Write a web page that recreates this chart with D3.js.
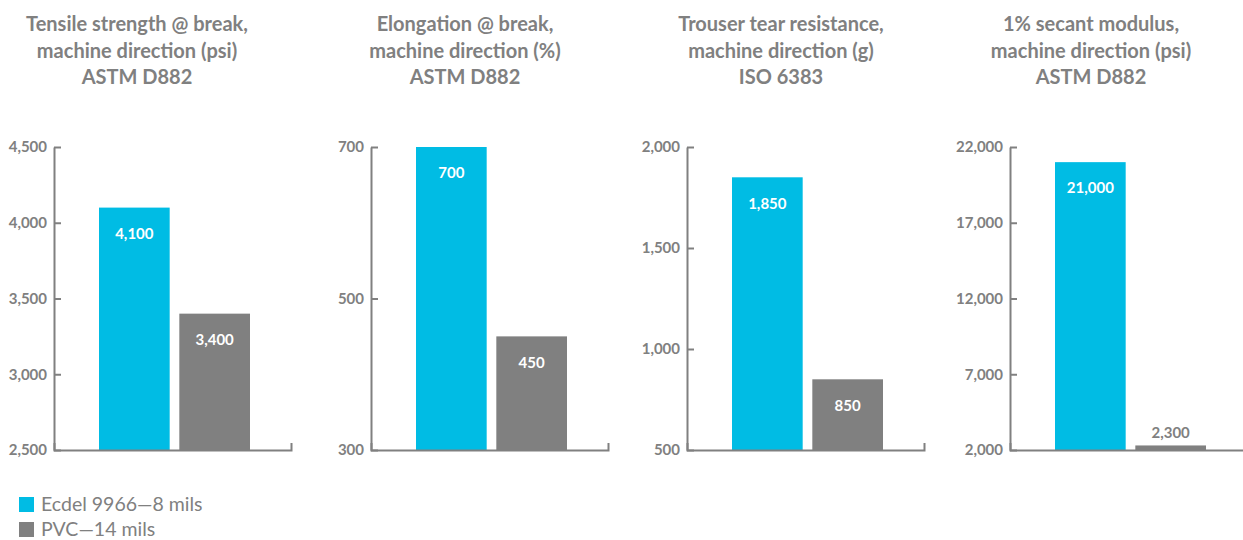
<!DOCTYPE html>
<html>
<head>
<meta charset="utf-8">
<style>
  body { margin: 0; background: #fff; }
  text { font-family: Lato, "Open Sans", sans-serif; }
</style>
</head>
<body>
<script src="https://d3js.org/d3.v7.min.js"></script>
<svg id="chart" width="1243" height="540"></svg>
<script>
// data
const titles = [
  ["Tensile strength @ break,", "machine direction (psi)", "ASTM D882"],
  ["Elongation @ break,", "machine direction (%)", "ASTM D882"],
  ["Trouser tear resistance,", "machine direction (g)", "ISO 6383"],
  ["1% secant modulus,", "machine direction (psi)", "ASTM D882"]
];
const series = ["Ecdel 9966\u20148 mils", "PVC\u201414 mils"];
const ecdelValues = [4100, 700, 1850, 21000];
const pvcValues = [3400, 450, 850, 2300];
const axisMin = [2500, 300, 500, 2000];
const axisMax = [4500, 700, 2000, 22000];
const tickValues = [
  [2500, 3000, 3500, 4000, 4500],
  [300, 500, 700],
  [500, 1000, 1500, 2000],
  [2000, 7000, 12000, 17000, 22000]
];

// layout
const panelX = [54, 371, 687, 1010];
const titleX = [137, 465, 781, 1091];
const plotTop = 147, plotBottom = 450, axisLen = 237;
const colors = ["#00bce4", "#808080"];
const textGrey = "#808080";

const svg = d3.select("#chart");
const fmt = d3.format(",");

const x = d3.scaleBand().domain(series).range([45, 196]).paddingInner(0.12);

titles.forEach(function(lines, i) {
  const g = svg.append("g").attr("transform", `translate(${panelX[i]},0)`);
  const y = d3.scaleLinear().domain([axisMin[i], axisMax[i]]).range([plotBottom, plotTop]);

  // title
  svg.append("text")
    .attr("x", titleX[i])
    .attr("text-anchor", "middle")
    .style("font-size", "20px")
    .style("font-weight", 700)
    .style("fill", textGrey)
    .selectAll("tspan")
    .data(lines)
    .enter()
    .append("tspan")
    .attr("x", titleX[i])
    .attr("y", (d, j) => 31 + j * 26.5)
    .text(d => d);

  // bars
  const vals = [ecdelValues[i], pvcValues[i]];
  g.selectAll("rect.bar")
    .data(vals)
    .enter()
    .append("rect")
    .attr("class", "bar")
    .attr("x", (d, j) => x(series[j]))
    .attr("width", x.bandwidth())
    .attr("y", d => y(d))
    .attr("height", d => plotBottom - y(d))
    .style("fill", (d, j) => colors[j]);

  g.selectAll("text.val")
    .data(vals)
    .enter()
    .append("text")
    .attr("class", "val")
    .attr("x", (d, j) => x(series[j]) + x.bandwidth() / 2)
    .attr("y", d => (plotBottom - y(d) > 40 ? y(d) + 26 : y(d) - 13))
    .attr("dy", "0.35em")
    .attr("text-anchor", "middle")
    .style("font-size", "15px")
    .style("font-weight", 700)
    .style("fill", d => (plotBottom - y(d) > 40 ? "#fff" : textGrey))
    .text(d => fmt(d));

  // y axis
  const yAxis = d3.axisLeft(y)
    .tickValues(tickValues[i])
    .tickFormat(fmt)
    .tickSizeInner(-7)
    .tickSizeOuter(0)
    .tickPadding(7);
  const ya = g.append("g").call(yAxis);
  ya.select(".domain").style("stroke", textGrey).style("stroke-width", 2);
  ya.selectAll(".tick line").style("stroke", textGrey).style("stroke-width", 2);
  ya.selectAll(".tick text")
    .style("font-family", "Lato, sans-serif")
    .style("font-size", "15px")
    .style("font-weight", 700)
    .style("fill", textGrey);

  // baseline
  const xb = d3.scaleLinear().domain([0, 1]).range([0, axisLen]);
  const xa = g.append("g")
    .attr("transform", `translate(0,${plotBottom})`)
    .call(d3.axisBottom(xb).tickValues([]).tickSizeOuter(-7));
  xa.select(".domain").style("stroke", textGrey).style("stroke-width", 2);
});

// legend
const legend = svg.append("g").attr("transform", "translate(19,497)");
const item = legend.selectAll("g")
  .data(series)
  .enter()
  .append("g")
  .attr("transform", (d, i) => `translate(0,${i * 25})`);
item.append("rect")
  .attr("width", 15)
  .attr("height", 15)
  .style("fill", (d, i) => colors[i]);
item.append("text")
  .attr("x", 22)
  .attr("y", 14)
  .style("font-size", "19.5px")
  .style("fill", textGrey)
  .text(d => d);
</script>
</body>
</html>
